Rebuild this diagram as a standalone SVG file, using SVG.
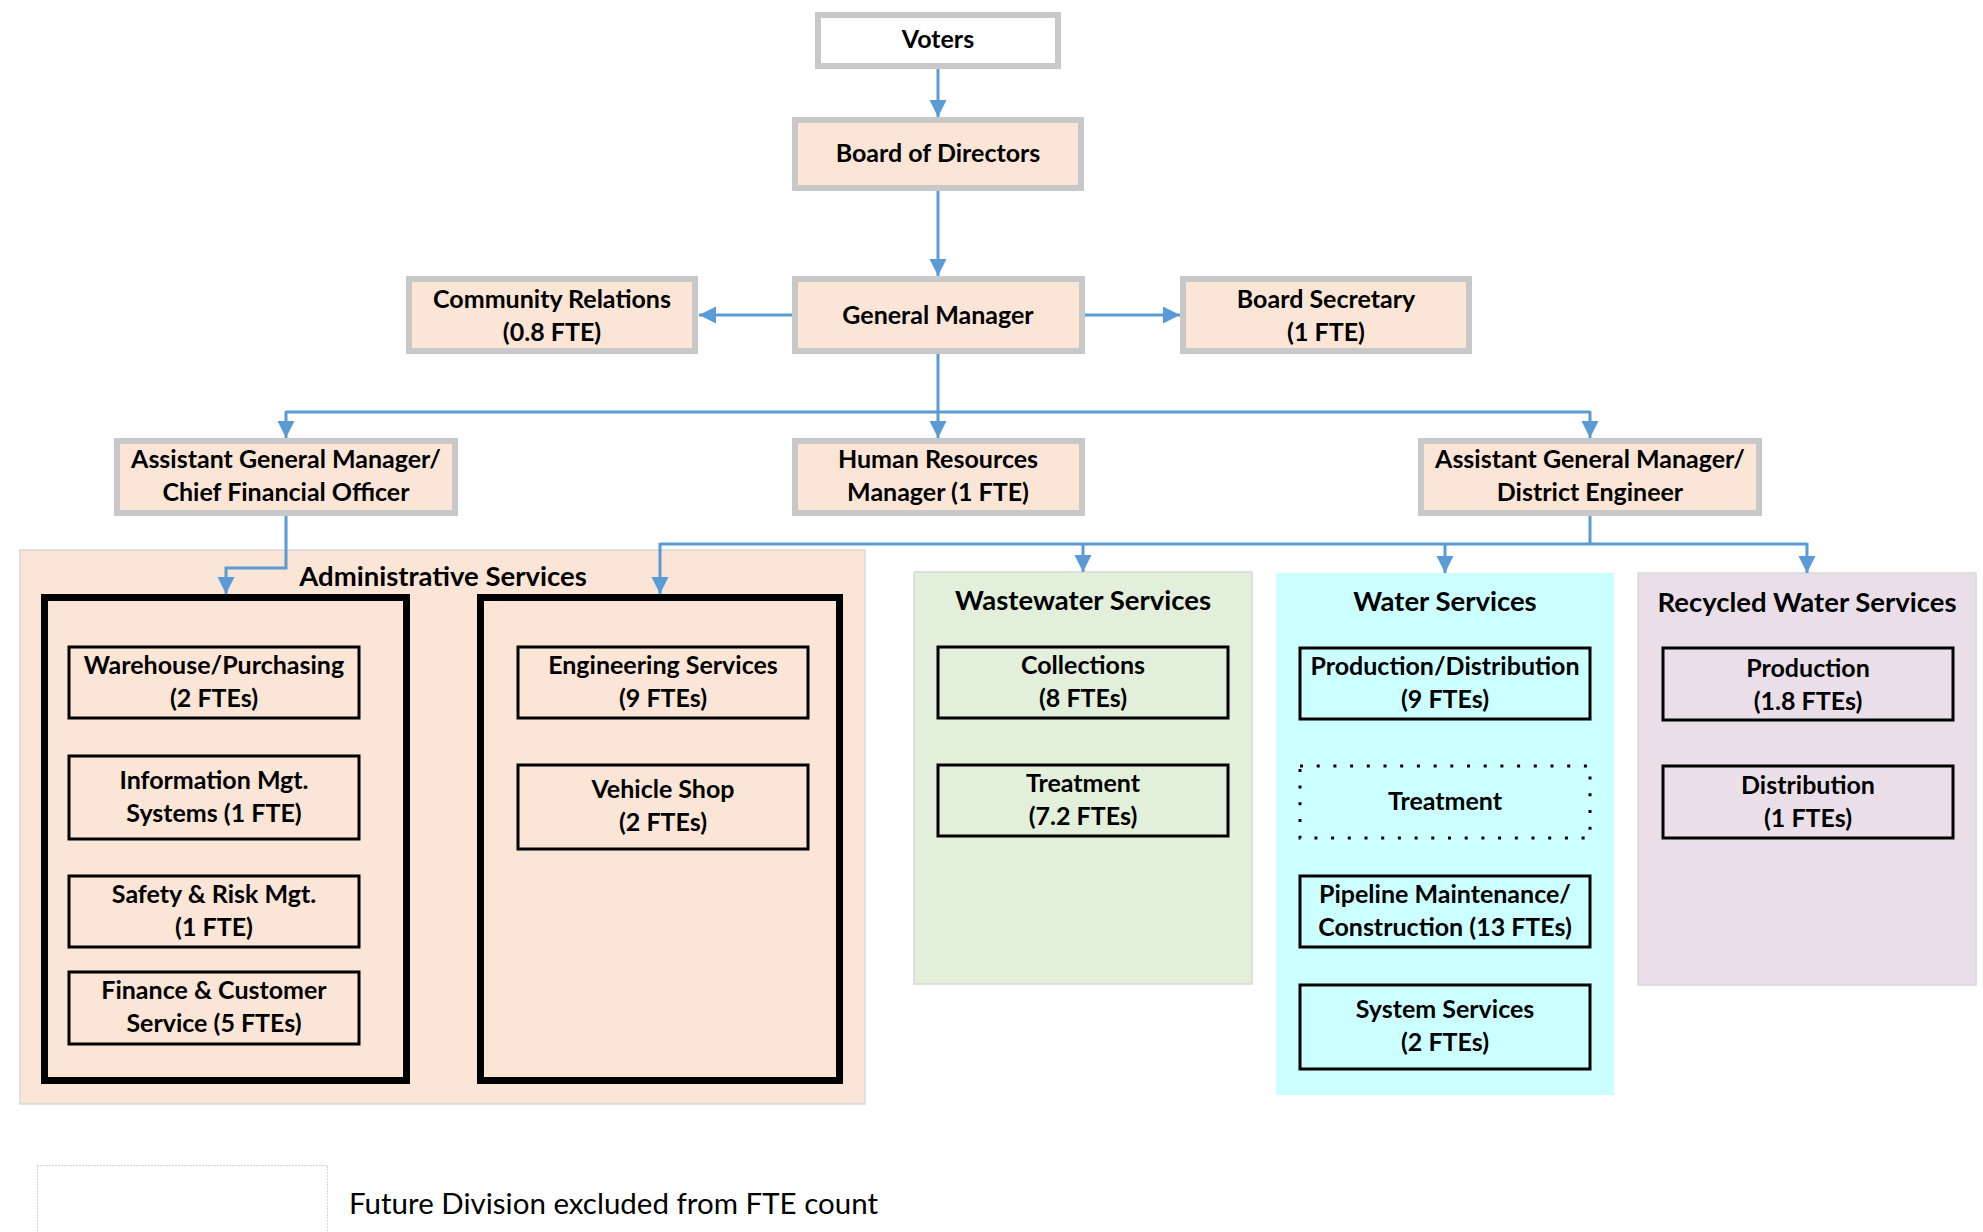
<svg xmlns="http://www.w3.org/2000/svg" width="1983" height="1232" viewBox="0 0 1983 1232">
<style>
  text { font-family: Lato, "Open Sans", "Liberation Sans", sans-serif; font-weight: bold; font-size: 25px; fill: #000; text-anchor: middle; }
  .title { font-size: 27.5px; }
  .legend { font-weight: normal; font-size: 29.5px; text-anchor: start; }
  .gbox { stroke: #C8C8C8; stroke-width: 6; fill: #FBE5D6; }
  .sub { stroke: #000; stroke-width: 3; fill: none; }
  .big { stroke: #000; stroke-width: 7; fill: none; }
  .conn { stroke: #5B9BD5; stroke-width: 3; fill: none; }
</style>
<defs>
  <marker id="arr" markerUnits="userSpaceOnUse" markerWidth="18" markerHeight="18" refX="17" refY="8.5" orient="auto">
    <path d="M0,0 L17,8.5 L0,17 z" fill="#5B9BD5"/>
  </marker>
</defs>
<rect width="1983" height="1232" fill="#fff"/>

<!-- group backgrounds -->
<g id="admin-services">
  <rect x="20" y="550" width="845" height="554" fill="#FBE5D6" stroke="#D9D9D9" stroke-width="1.5"/>
  <text class="title" x="443" y="586">Administrative Services</text>
  <rect class="big" x="44.5" y="597.5" width="362" height="483"/>
  <rect class="big" x="480.5" y="597.5" width="359" height="483"/>
</g>
<g id="wastewater-services">
  <rect x="914" y="572" width="338" height="412" fill="#E2EFDA" stroke="#D9D9D9" stroke-width="1.5"/>
  <text class="title" x="1083" y="610">Wastewater Services</text>
</g>
<g id="water-services">
  <rect x="1276" y="573" width="338" height="522" fill="#CCFFFF"/>
  <text class="title" x="1445" y="611">Water Services</text>
</g>
<g id="recycled-water-services">
  <rect x="1638" y="573" width="338" height="412" fill="#EADFE9" stroke="#D9D9D9" stroke-width="1.5"/>
  <text class="title" x="1807" y="612">Recycled Water Services</text>
</g>

<!-- top nodes -->
<g id="voters">
  <rect class="gbox" x="818" y="15" width="240" height="51" style="fill:#fff"/>
  <text x="938" y="48">Voters</text>
</g>
<g id="board-of-directors">
  <rect class="gbox" x="795" y="120" width="286" height="68"/>
  <text x="938" y="162">Board of Directors</text>
</g>
<g id="general-manager">
  <rect class="gbox" x="795" y="279" width="287" height="72"/>
  <text x="938" y="324">General Manager</text>
</g>
<g id="community-relations">
  <rect class="gbox" x="409" y="279" width="286" height="72"/>
  <text x="552" y="308">Community Relations</text>
  <text x="552" y="341">(0.8 FTE)</text>
</g>
<g id="board-secretary">
  <rect class="gbox" x="1183" y="279" width="286" height="72"/>
  <text x="1326" y="308">Board Secretary</text>
  <text x="1326" y="341">(1 FTE)</text>
</g>
<g id="agm-cfo">
  <rect class="gbox" x="117" y="441" width="338" height="72"/>
  <text x="286" y="468">Assistant General Manager/</text>
  <text x="286" y="501">Chief Financial Officer</text>
</g>
<g id="hr-manager">
  <rect class="gbox" x="795" y="441" width="287" height="72"/>
  <text x="938" y="468">Human Resources</text>
  <text x="938" y="501">Manager (1 FTE)</text>
</g>
<g id="agm-de">
  <rect class="gbox" x="1421" y="441" width="338" height="72"/>
  <text x="1590" y="468">Assistant General Manager/</text>
  <text x="1590" y="501">District Engineer</text>
</g>

<!-- administrative sub-units -->
<g id="warehouse">
  <rect class="sub" x="69" y="647" width="290" height="71"/>
  <text x="214" y="674">Warehouse/Purchasing</text>
  <text x="214" y="707">(2 FTEs)</text>
</g>
<g id="info-mgt">
  <rect class="sub" x="69" y="756" width="290" height="83"/>
  <text x="214" y="789">Information Mgt.</text>
  <text x="214" y="822">Systems (1 FTE)</text>
</g>
<g id="safety">
  <rect class="sub" x="69" y="876" width="290" height="71"/>
  <text x="214" y="903">Safety &amp; Risk Mgt.</text>
  <text x="214" y="936">(1 FTE)</text>
</g>
<g id="finance">
  <rect class="sub" x="69" y="972" width="290" height="72"/>
  <text x="214" y="999">Finance &amp; Customer</text>
  <text x="214" y="1032">Service (5 FTEs)</text>
</g>
<g id="engineering">
  <rect class="sub" x="518" y="647" width="290" height="71"/>
  <text x="663" y="674">Engineering Services</text>
  <text x="663" y="707">(9 FTEs)</text>
</g>
<g id="vehicle-shop">
  <rect class="sub" x="518" y="765" width="290" height="84"/>
  <text x="663" y="798">Vehicle Shop</text>
  <text x="663" y="831">(2 FTEs)</text>
</g>

<!-- wastewater -->
<g id="collections">
  <rect class="sub" x="938" y="647" width="290" height="71"/>
  <text x="1083" y="674">Collections</text>
  <text x="1083" y="707">(8 FTEs)</text>
</g>
<g id="ww-treatment">
  <rect class="sub" x="938" y="765" width="290" height="71"/>
  <text x="1083" y="792">Treatment</text>
  <text x="1083" y="825">(7.2 FTEs)</text>
</g>

<!-- water -->
<g id="production-distribution">
  <rect class="sub" x="1300" y="648" width="290" height="71"/>
  <text x="1445" y="675">Production/Distribution</text>
  <text x="1445" y="708">(9 FTEs)</text>
</g>
<g id="water-treatment">
  <rect x="1300" y="766" width="290" height="72" fill="none" stroke="#000" stroke-width="3" stroke-dasharray="3 13.7"/>
  <text x="1445" y="810">Treatment</text>
</g>
<g id="pipeline">
  <rect class="sub" x="1300" y="876" width="290" height="71"/>
  <text x="1445" y="903">Pipeline Maintenance/</text>
  <text x="1445" y="936">Construction (13 FTEs)</text>
</g>
<g id="system-services">
  <rect class="sub" x="1300" y="985" width="290" height="84"/>
  <text x="1445" y="1018">System Services</text>
  <text x="1445" y="1051">(2 FTEs)</text>
</g>

<!-- recycled -->
<g id="rw-production">
  <rect class="sub" x="1663" y="648" width="290" height="72"/>
  <text x="1808" y="677">Production</text>
  <text x="1808" y="710">(1.8 FTEs)</text>
</g>
<g id="rw-distribution">
  <rect class="sub" x="1663" y="766" width="290" height="72"/>
  <text x="1808" y="794">Distribution</text>
  <text x="1808" y="827">(1 FTEs)</text>
</g>

<!-- legend -->
<g id="legend">
  <rect x="37.5" y="1165.5" width="290" height="80" fill="none" stroke="#A6A6A6" stroke-width="1" stroke-dasharray="1 2"/>
  <text class="legend" x="349" y="1214">Future Division excluded from FTE count</text>
</g>

<!-- connectors -->
<g id="connectors">
  <path class="conn" d="M938,69 V117" marker-end="url(#arr)"/>
  <path class="conn" d="M938,191 V276" marker-end="url(#arr)"/>
  <path class="conn" d="M792,315 H699" marker-end="url(#arr)"/>
  <path class="conn" d="M1085,315 H1180" marker-end="url(#arr)"/>
  <path class="conn" d="M938,354 V438" marker-end="url(#arr)"/>
  <path class="conn" d="M286,412 H1590"/>
  <path class="conn" d="M286,411 V438" marker-end="url(#arr)"/>
  <path class="conn" d="M1590,411 V438" marker-end="url(#arr)"/>
  <path class="conn" d="M286,516 V568 H226 V594" marker-end="url(#arr)"/>
  <path class="conn" d="M1590,516 V544"/>
  <path class="conn" d="M660,544 H1807"/>
  <path class="conn" d="M660,543 V594" marker-end="url(#arr)"/>
  <path class="conn" d="M1083,543 V572" marker-end="url(#arr)"/>
  <path class="conn" d="M1445,543 V573" marker-end="url(#arr)"/>
  <path class="conn" d="M1807,543 V573" marker-end="url(#arr)"/>
</g>
</svg>
